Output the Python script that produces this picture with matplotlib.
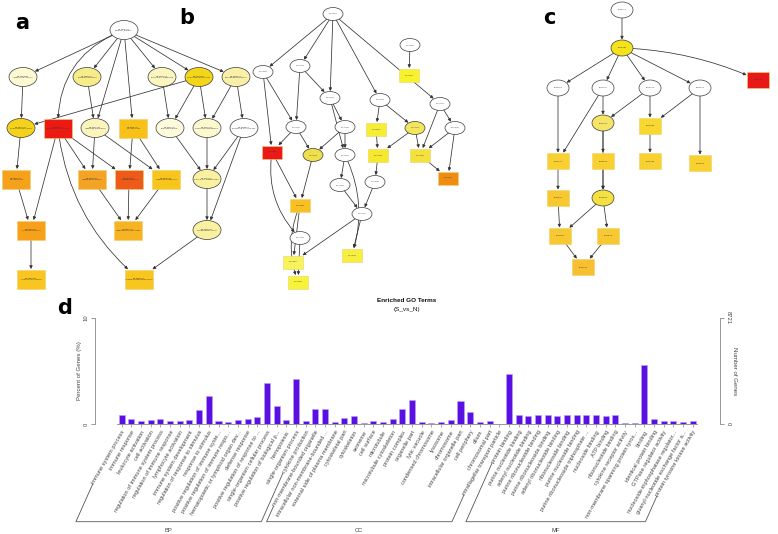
import matplotlib
matplotlib.use('Agg')
import matplotlib.pyplot as plt
from matplotlib.patches import Ellipse, Rectangle, FancyArrowPatch
from matplotlib.lines import Line2D
import numpy as np

plt.rcParams['font.family'] = ['Liberation Sans', 'DejaVu Sans']

# ------------------------------------------------------------------ data
bp_terms = ["immune system process", "immune response", "leukocyte activation",
            "cell activation", "regulation of immune system process",
            "regulation of immune response", "lymphocyte activation",
            "immune system development", "regulation of response to stimulus",
            "response to stimulus", "positive regulation of immune syste...",
            "positive regulation of immune respo...",
            "hematopoietic or lymphoid organ dev...", "defense response",
            "positive regulation of response to ...",
            "single-organism cellular process",
            "positive regulation of biological p...", "hemopoiesis",
            "single-organism process", "cytokine production"]
cc_terms = ["non-membrane-bounded organelle", "intracellular non-membrane-bounded ...",
            "external side of plasma membrane", "cytoskeletal part", "cytoskeleton",
            "axoneme", "cell surface", "microtubule", "microtubule cytoskeleton",
            "protein complex", "organelle part", "lytic vacuole",
            "condensed chromosome", "lysosome", "chromosome",
            "intracellular organelle part", "cell periphery", "cilium",
            "chromosomal part", "intraflagellar transport particle"]
mf_terms = ["protein binding", "purine nucleotide binding", "adenyl nucleotide binding",
            "purine ribonucleotide binding", "purine ribonucleoside binding",
            "adenyl ribonucleotide binding", "ribonucleoside binding",
            "purine nucleoside binding", "purine ribonucleoside triphosphate ...",
            "nucleoside binding", "ATP binding", "ribonucleotide binding",
            "cytokine receptor activity", "non-membrane spanning protein tyros...",
            "binding", "identical protein binding", "GTPase regulator activity",
            "nucleoside-triphosphatase regulator...",
            "guanyl-nucleotide exchange factor a...",
            "protein tyrosine kinase activity"]
bp_pct = [0.82, 0.44, 0.31, 0.35, 0.47, 0.25, 0.25, 0.38, 1.29, 2.6,
          0.28, 0.19, 0.38, 0.44, 0.63, 3.9, 1.67, 0.35, 4.2, 0.25]
cc_pct = [1.38, 1.38, 0.16, 0.6, 0.75, 0.06, 0.28, 0.16, 0.44, 1.45,
          2.26, 0.16, 0.09, 0.16, 0.35, 2.2, 1.16, 0.16, 0.31, 0.03]
mf_pct = [4.7, 0.85, 0.72, 0.85, 0.85, 0.72, 0.85, 0.85, 0.85, 0.85,
          0.72, 0.88, 0.06, 0.06, 5.57, 0.5, 0.25, 0.25, 0.16, 0.31]
group_names = ["BP", "CC", "MF"]
pct_max = 10
genes_max = 8721
title_lines = ["Enriched GO Terms", "(S_vs_N)"]

# GO graph nodes: (id, x, y, shape, colour, label)
nodes_a = [
    ("a0", 124, 30, "e", "#ffffff", "GO:0008150\nbiological_process"),
    ("a1", 23, 77, "e", "#fdf9d2", "GO:0050896\nresponse to stimulus"),
    ("a2", 87, 77, "e", "#f6ec8a", "GO:0065007\nbiological regulation"),
    ("a3", 162, 77, "e", "#fbf5bf", "GO:0032501\nmulticellular organismal"),
    ("a4", 199, 77, "e", "#f3d51a", "GO:0044699\nsingle-organism process"),
    ("a5", 236, 77, "e", "#f8f0a8", "GO:0032502\ndevelopmental process"),
    ("a6", 21, 128, "e", "#f4d21c", "GO:0044763\nsingle-organism cellular"),
    ("a7", 58, 128, "r", "#ec1a12", "GO:0002376\nimmune system process"),
    ("a8", 95, 128, "e", "#fbf5bd", "GO:0050789\nregulation of biological"),
    ("a9", 133, 128, "r", "#f7c11a", "GO:0001775\ncell activation"),
    ("a10", 170, 128, "e", "#fefbdc", "GO:0044707\nsingle-multicellular"),
    ("a11", 207, 128, "e", "#fdf8d0", "GO:0044767\nsingle-organism develop."),
    ("a12", 244, 128, "e", "#ffffff", "GO:0048856\nanatomical structure dev."),
    ("a13", 16, 179, "r", "#f6a11b", "GO:0001775\ncell activation"),
    ("a14", 92, 179, "r", "#f5a324", "GO:0002682\nregulation of immune"),
    ("a15", 129, 179, "r", "#ee5a1a", "GO:0006955\nimmune response"),
    ("a16", 166, 179, "r", "#f8c51c", "GO:0048583\nregulation of response"),
    ("a17", 207, 179, "e", "#faf1a0", "GO:0007275\nmulticellular organism dev."),
    ("a18", 31, 230, "r", "#f7a11a", "GO:0045321\nleukocyte activation"),
    ("a19", 128, 230, "r", "#f7b322", "GO:0050776\nregulation of immune resp."),
    ("a20", 207, 230, "e", "#faf1a0", "GO:0048731\nsystem development"),
    ("a21", 31, 279, "r", "#f8c61e", "GO:0046649\nlymphocyte activation"),
    ("a22", 139, 279, "r", "#f8c61e", "GO:0002520\nimmune system development"),
]
edges_a = [("a0", "a1", 0), ("a0", "a2", 0), ("a0", "a3", 0), ("a0", "a4", 0),
           ("a0", "a5", 0), ("a0", "a7", 0.35), ("a0", "a8", 0), ("a0", "a9", 0),
           ("a1", "a6", 0), ("a2", "a8", 0), ("a3", "a10", 0), ("a4", "a6", 0),
           ("a4", "a10", 0), ("a4", "a11", 0), ("a5", "a11", 0), ("a5", "a12", 0),
           ("a6", "a13", 0), ("a7", "a14", 0), ("a7", "a15", 0), ("a7", "a18", 0),
           ("a7", "a22", 0.2), ("a8", "a14", 0), ("a8", "a16", 0), ("a9", "a15", 0),
           ("a9", "a16", 0), ("a10", "a17", 0), ("a11", "a17", 0), ("a12", "a17", 0),
           ("a12", "a20", 0), ("a13", "a18", 0), ("a14", "a19", 0), ("a15", "a19", 0),
           ("a16", "a19", 0), ("a17", "a20", 0), ("a18", "a21", 0), ("a20", "a22", 0)]

nodes_b = [
    ("b0", 333, 14, "e", "#ffffff", "GO:0005575"), ("b1", 263, 72, "e", "#ffffff", "GO:0005623"),
    ("b2", 300, 66, "e", "#ffffff", "GO:0044464"), ("b3", 410, 45, "e", "#ffffff", "GO:0032991"),
    ("b4", 409, 75, "r", "#f6f22c", "GO:0043234"), ("b5", 330, 98, "e", "#ffffff", "GO:0005622"),
    ("b6", 380, 100, "e", "#ffffff", "GO:0043226"), ("b7", 440, 104, "e", "#ffffff", "GO:0044422"),
    ("b8", 296, 127, "e", "#ffffff", "GO:0044424"), ("b9", 345, 127, "e", "#ffffff", "GO:0043229"),
    ("b10", 376, 129, "r", "#f6ee34", "GO:0043228"), ("b11", 415, 128, "e", "#f2e65c", "GO:0044446"),
    ("b12", 455, 128, "e", "#ffffff", "GO:0005737"), ("b13", 272, 152, "r", "#ec1a16", "GO:0009897"),
    ("b14", 313, 155, "e", "#f0df4c", "GO:0043232"), ("b15", 345, 155, "e", "#ffffff", "GO:0043231"),
    ("b16", 378, 155, "r", "#f6e82c", "GO:0044430"), ("b17", 420, 155, "r", "#f4e23c", "GO:0005856"),
    ("b18", 448, 178, "r", "#ef8c12", "GO:0005764"), ("b19", 300, 205, "r", "#f8c022", "GO:0009986"),
    ("b20", 340, 185, "e", "#ffffff", "GO:0005694"), ("b21", 375, 182, "e", "#ffffff", "GO:0015630"),
    ("b22", 362, 214, "e", "#ffffff", "GO:0044427"), ("b23", 300, 238, "e", "#ffffff", "GO:0071944"),
    ("b24", 352, 255, "r", "#f6ef40", "GO:0000793"), ("b25", 293, 262, "r", "#f7f35a", "GO:0005874"),
    ("b26", 298, 282, "r", "#f6f33a", "GO:0030990"),
]
edges_b = [("b0", "b1", 0), ("b0", "b2", 0), ("b0", "b5", 0), ("b0", "b6", 0), ("b0", "b7", 0),
           ("b3", "b4", 0), ("b1", "b8", 0), ("b1", "b13", 0), ("b2", "b8", 0), ("b2", "b5", 0),
           ("b5", "b9", 0), ("b5", "b15", 0), ("b6", "b10", 0), ("b6", "b11", 0), ("b7", "b12", 0),
           ("b7", "b17", 0), ("b8", "b13", 0), ("b8", "b14", 0), ("b9", "b14", 0), ("b9", "b15", 0),
           ("b10", "b16", 0), ("b11", "b16", 0), ("b11", "b17", 0), ("b12", "b18", 0),
           ("b12", "b17", 0), ("b13", "b19", 0), ("b13", "b23", 0.25), ("b14", "b19", 0),
           ("b15", "b20", 0), ("b16", "b21", 0), ("b17", "b18", 0), ("b20", "b22", 0),
           ("b21", "b22", 0), ("b19", "b25", 0), ("b22", "b24", 0), ("b22", "b25", 0),
           ("b23", "b26", 0), ("b19", "b26", 0.2), ("b15", "b24", -0.2)]

nodes_c = [
    ("c0", 622, 10, "e", "#ffffff", "GO:0003674"), ("c1", 622, 48, "e", "#f4e21a", "GO:0005488"),
    ("c2", 558, 88, "e", "#ffffff", "GO:0097159"), ("c3", 603, 88, "e", "#ffffff", "GO:0043167"),
    ("c4", 650, 88, "e", "#ffffff", "GO:1901363"), ("c17", 700, 88, "e", "#ffffff", "GO:0005515"),
    ("c5", 758, 80, "r", "#e81818", "GO:0042802"), ("c6", 603, 123, "e", "#f6e466", "GO:0000166"),
    ("c7", 650, 126, "r", "#f8d830", "GO:0001882"), ("c8", 558, 161, "r", "#f8d030", "GO:0017076"),
    ("c9", 603, 161, "r", "#f8d030", "GO:0032553"), ("c10", 650, 161, "r", "#f8d030", "GO:0001883"),
    ("c11", 700, 163, "r", "#f8d030", "GO:0032549"), ("c12", 558, 198, "r", "#f8c830", "GO:0030554"),
    ("c13", 603, 198, "e", "#f4e040", "GO:0032555"), ("c14", 560, 236, "r", "#f8c830", "GO:0032559"),
    ("c15", 608, 236, "r", "#f8c830", "GO:0035639"), ("c16", 583, 267, "r", "#f8c030", "GO:0005524"),
]
edges_c = [("c0", "c1", 0), ("c1", "c2", 0), ("c1", "c3", 0), ("c1", "c4", 0), ("c1", "c17", 0),
           ("c1", "c5", -0.1), ("c2", "c8", 0), ("c3", "c6", 0), ("c4", "c6", 0), ("c4", "c7", 0),
           ("c17", "c7", 0), ("c17", "c11", 0), ("c6", "c9", 0), ("c6", "c13", 0), ("c7", "c10", 0),
           ("c3", "c8", 0), ("c8", "c12", 0), ("c12", "c14", 0), ("c13", "c14", 0),
           ("c13", "c15", 0), ("c14", "c16", 0), ("c15", "c16", 0), ("c9", "c13", 0)]

# ------------------------------------------------------------------ figure
W, H = 778, 534
fig = plt.figure(figsize=(W / 100, H / 100), dpi=100)
fig.patch.set_facecolor("white")

gax = fig.add_axes([0, 0, 1, 1])
gax.set_xlim(0, W)
gax.set_ylim(H, 0)
gax.axis("off")


def draw_graph(nodes, edges, w, h, fs):
    patches = {}
    pos = {}
    for nid, x, y, shape, col, lab in nodes:
        if shape == "e":
            p = Ellipse((x, y), w, h, fc=col, ec="#3a3a3a", lw=0.5, zorder=3)
        else:
            p = Rectangle((x - w / 2, y - h / 2), w, h, fc=col, ec="#f0d070", lw=0.4, zorder=3)
        gax.add_patch(p)
        patches[nid] = p
        pos[nid] = (x, y)
        gax.text(x, y, lab, fontsize=fs, ha="center", va="center", color="#333333",
                 zorder=4, linespacing=1.1)
    for a, b, rad in edges:
        arr = FancyArrowPatch(pos[a], pos[b], patchA=patches[a], patchB=patches[b],
                              arrowstyle="-|>", mutation_scale=4.5, lw=0.55,
                              color="#333333", shrinkA=0, shrinkB=0.5,
                              connectionstyle=f"arc3,rad={rad}", zorder=2)
        gax.add_patch(arr)


draw_graph(nodes_a, edges_a, 28, 19, 1.5)
draw_graph(nodes_b, edges_b, 20, 13, 1.1)
draw_graph(nodes_c, edges_c, 22, 16, 1.2)

for lab, x, y in [("a", 22, 23), ("b", 187, 18), ("c", 549, 18), ("d", 65, 308)]:
    gax.text(x, y, lab, fontsize=15, fontweight="bold", ha="center", va="center",
             family="DejaVu Sans")

# ------------------------------------------------------------------ bar chart
terms = bp_terms + cc_terms + mf_terms
pct = bp_pct + cc_pct + mf_pct
n = len(terms)
xs = np.arange(n)

px_per = 9.68
ax_left_px, ax_right_px = 95, 720
base_px, top_px = 424, 318
x_first = 121.7
xl = -(x_first - ax_left_px) / px_per
xr = (n - 1) + (ax_right_px - (x_first + (n - 1) * px_per)) / px_per

ax = fig.add_axes([ax_left_px / W, (H - base_px) / H,
                   (ax_right_px - ax_left_px) / W, (base_px - top_px) / H])
ax.patch.set_alpha(0)
ax.bar(xs, pct, width=0.62, color="#5a0fe4", edgecolor="#b8a4f2", linewidth=0.4)
ax.set_xlim(xl, xr)
ax.set_ylim(0, pct_max)

for s in ["top", "right"]:
    ax.spines[s].set_visible(False)
ax.spines["left"].set_color("#888888")
ax.spines["left"].set_linewidth(0.6)
ax.spines["left"].set_bounds(0, pct_max)
ax.spines["bottom"].set_color("#888888")
ax.spines["bottom"].set_linewidth(0.6)
ax.spines["bottom"].set_bounds(-0.45, n - 0.55)

ax.set_yticks([0, pct_max])
ax.set_yticklabels(["0", str(pct_max)], rotation=90, va="center", fontsize=4.2, color="#444444")
ax.tick_params(axis="y", length=3, width=0.6, color="#888888", pad=1.5)
ax.set_ylabel("Percent of Genes (%)", fontsize=4.4, color="#444444", labelpad=1)

ax.set_xticks(xs)
ax.set_xticklabels(terms, rotation=60, ha="right", va="top", rotation_mode="anchor",
                   fontsize=4.1, color="#444444")
ax.tick_params(axis="x", length=2.5, width=0.5, color="#888888", pad=1.5)

ax2 = ax.twinx()
ax2.set_ylim(0, genes_max)
for s in ["top", "left", "bottom"]:
    ax2.spines[s].set_visible(False)
ax2.spines["right"].set_color("#888888")
ax2.spines["right"].set_linewidth(0.6)
ax2.spines["right"].set_bounds(0, genes_max)
ax2.set_yticks([0, genes_max])
ax2.set_yticklabels(["0", str(genes_max)], rotation=270, va="center", fontsize=4.2,
                    color="#444444")
ax2.tick_params(axis="y", length=3, width=0.6, color="#888888", pad=1.5)
ax2.set_ylabel("Number of Genes", fontsize=4.4, color="#444444", rotation=270, labelpad=4)

fig.text(407 / W, 1 - 301 / H, title_lines[0], ha="center", va="center", fontsize=4.6,
         color="#111111", fontweight="bold")
fig.text(407 / W, 1 - 309.5 / H, title_lines[1], ha="center", va="center", fontsize=4.6,
         color="#111111")

# ------------------------------------------------------------------ group brackets
fig.canvas.draw()
rend = fig.canvas.get_renderer()
tlabels = ax.get_xticklabels()
yb = H - 521.7
ang = np.deg2rad(66)


def start_pt(t):
    bb = t.get_window_extent(rend)
    return bb.x0 + 1.6, bb.y0 + 1.0


sizes = [len(bp_terms), len(cc_terms), len(mf_terms)]
i0 = 0
for name, sz in zip(group_names, sizes):
    i1 = i0 + sz - 1
    p0 = start_pt(tlabels[i0])
    p1 = start_pt(tlabels[i1])
    f0 = p0[0] - (p0[1] - yb) / np.tan(ang)
    f1 = p1[0] - (p1[1] - yb) / np.tan(ang)
    lx = np.array([p0[0], f0, f1, p1[0]]) / W
    ly = np.array([p0[1], yb, yb, p1[1]]) / H
    fig.add_artist(Line2D(lx, ly, transform=fig.transFigure, color="#555555", lw=0.6))
    fig.text(((f0 + f1) / 2) / W, (yb - 8.5) / H, name, ha="center", va="center",
             fontsize=4.2, color="#444444")
    i0 = i1 + 1

fig.savefig("out.png", dpi=100, facecolor="white")
